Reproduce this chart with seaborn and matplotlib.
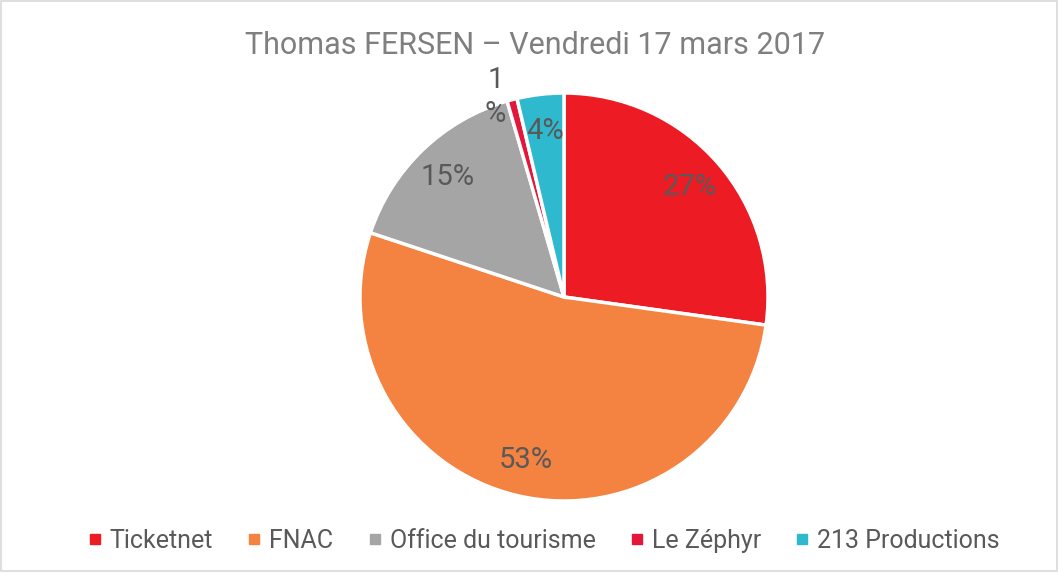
import matplotlib
matplotlib.use('Agg')
import matplotlib.pyplot as plt
import matplotlib.patches as mpatches
from matplotlib.lines import Line2D
import seaborn as sns

# Ticket sales share per outlet
labels = ['Ticketnet', 'FNAC', 'Office du tourisme', 'Le Zéphyr', '213 Productions']
shares = [27.2, 52.9, 15.4, 0.8, 3.7]
colors = ['#ED1C24', '#F48240', '#A5A5A5', '#E3173A', '#2FB9CF']
title = 'Thomas FERSEN – Vendredi 17 mars 2017'

sns.set_style('white')
plt.rcParams['font.family'] = ['Roboto', 'DejaVu Sans']

fig = plt.figure(figsize=(10.59, 5.74), dpi=100)
fig.patches.append(mpatches.Rectangle((0.001, 0.005), 0.997, 0.993, transform=fig.transFigure,
                                      fill=False, edgecolor='#D9D9D9', linewidth=1.2))

cx, cy, r = 564 / 1059, 1 - 297 / 574, 204
ax = fig.add_axes([cx - r / 1059, cy - r / 574, 2 * r / 1059, 2 * r / 574])

wedges, texts, autotexts = ax.pie(
    shares, colors=colors, startangle=90, counterclock=False,
    autopct=lambda p: f'{p:.0f}%', pctdistance=0.82,
    wedgeprops=dict(edgecolor='white', linewidth=2.5),
    textprops=dict(color='#595959', fontsize=21))
ax.set_xlim(-1, 1)
ax.set_ylim(-1, 1)

# the tiny Le Zéphyr label sits outside, wrapped on two lines
autotexts[3].set_text('1\n%')
autotexts[3].set_position((-0.335, 0.98))
autotexts[3].set_linespacing(1.3)

fig.text(0.505, 0.92, title, ha='center', va='center', fontsize=22, color='#7F7F7F')

handles = [Line2D([], [], marker='s', linestyle='', color=c, markersize=7) for c in colors]
fig.legend(handles, labels, loc='center', bbox_to_anchor=(0.511, 0.058), ncol=5, frameon=False,
           labelcolor='#595959', handletextpad=0.1, columnspacing=1.15,
           handlelength=1.0, prop=dict(size=18))

fig.savefig('out.png', dpi=100)
